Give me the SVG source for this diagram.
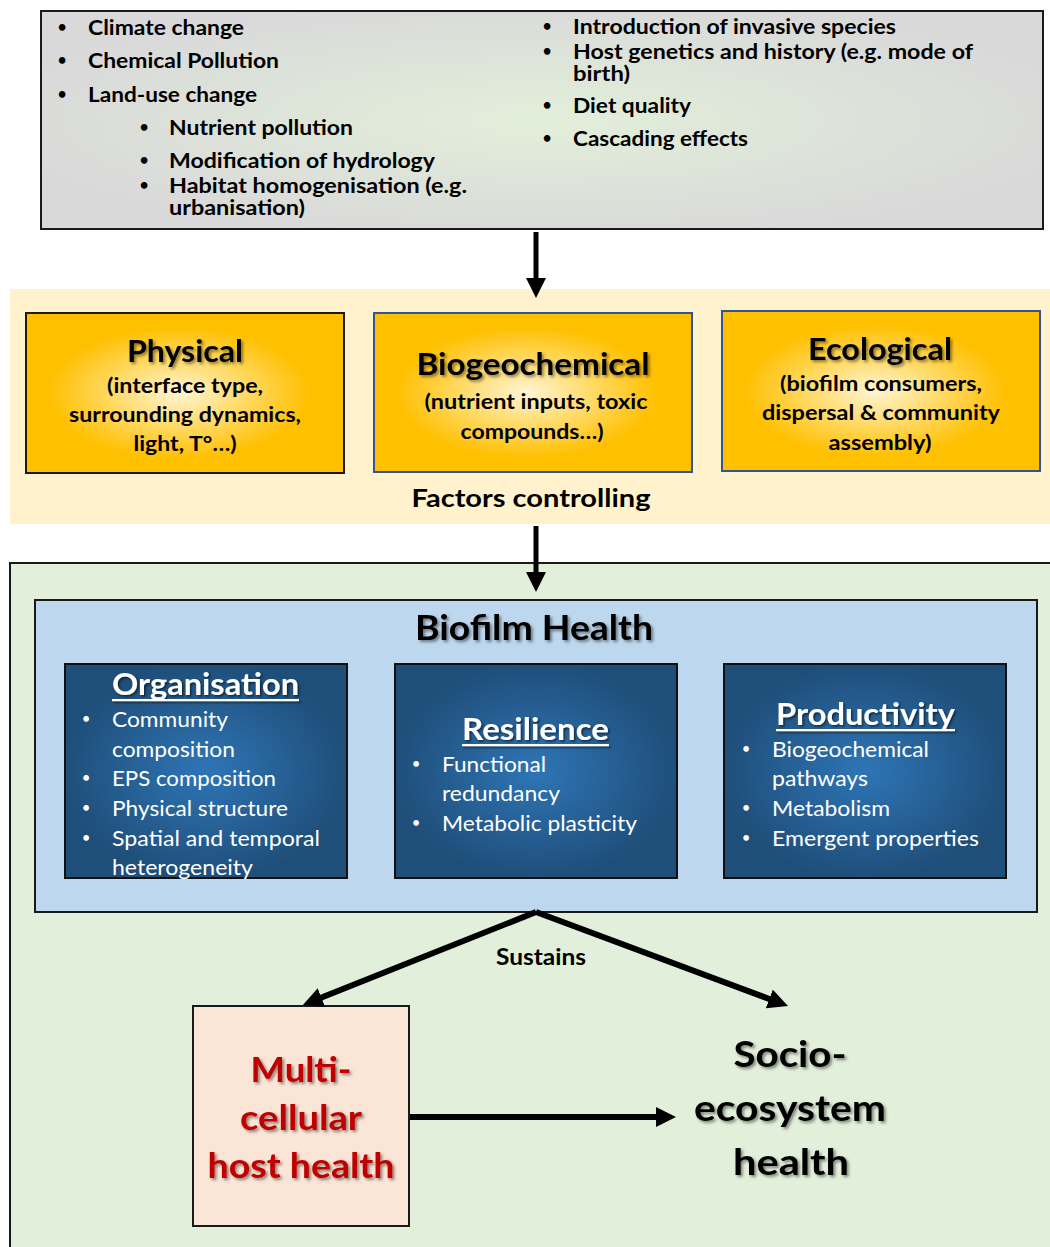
<svg xmlns="http://www.w3.org/2000/svg" width="1050" height="1247" viewBox="0 0 1050 1247">
<defs>
<style>
text{font-family:Lato,"Open Sans","Liberation Sans",sans-serif;}
.b{font-weight:700;fill:#000;}
.top{font-size:21px;font-weight:700;fill:#000;}
.ft{font-size:31px;font-weight:700;fill:#000;}
.fs{font-size:20.5px;font-weight:700;fill:#000;}
.wh{font-size:30px;font-weight:700;fill:#fff;}
.wb{font-size:21.5px;font-weight:400;fill:#fff;}
.bu{font-size:15px;}
.conn{stroke:#000;fill:none;}
</style>
<radialGradient id="gTop" cx="0.5" cy="0.5" r="0.55">
<stop offset="0" stop-color="#e2efd9"/>
<stop offset="1" stop-color="#d9d9d9"/>
</radialGradient>
<radialGradient id="gGold" cx="0.48" cy="0.5" r="0.55">
<stop offset="0" stop-color="#fff5d6"/>
<stop offset="0.35" stop-color="#ffdc6e"/>
<stop offset="0.75" stop-color="#ffc000"/>
<stop offset="1" stop-color="#ffc000"/>
</radialGradient>
<radialGradient id="gBlue" cx="0.5" cy="0.5" r="0.6">
<stop offset="0" stop-color="#2e75b6"/>
<stop offset="0.85" stop-color="#1f4e79"/>
<stop offset="1" stop-color="#1f4e79"/>
</radialGradient>
<filter id="sh" x="-10%" y="-20%" width="125%" height="150%">
<feDropShadow dx="2" dy="2" stdDeviation="1.5" flood-color="#000" flood-opacity="0.45"/>
</filter>
<filter id="shw" x="-10%" y="-20%" width="125%" height="150%">
<feDropShadow dx="1.5" dy="1.5" stdDeviation="1" flood-color="#000" flood-opacity="0.6"/>
</filter>
<marker id="ah" markerUnits="userSpaceOnUse" markerWidth="20" markerHeight="20" refX="8" refY="10" orient="auto">
<path d="M0,0 L20,10 L0,20 z" fill="#000"/>
</marker>
</defs>

<!-- backgrounds -->
<rect x="10" y="289" width="1040" height="235" fill="#fff2cc"/>
<rect x="10" y="563" width="1050" height="700" fill="#e2efda" stroke="#1a1a1a" stroke-width="2"/>

<g id="drivers">
<rect x="41" y="11" width="1002" height="218" fill="url(#gTop)" stroke="#1a1a1a" stroke-width="2"/>
<g class="top">
<text class="bu" x="62" y="32" text-anchor="middle">•</text>
<text x="88" y="35" textLength="156" lengthAdjust="spacingAndGlyphs">Climate change</text>
<text class="bu" x="62" y="65" text-anchor="middle">•</text>
<text x="88" y="68" textLength="191" lengthAdjust="spacingAndGlyphs">Chemical Pollution</text>
<text class="bu" x="62" y="99" text-anchor="middle">•</text>
<text x="88" y="102" textLength="169" lengthAdjust="spacingAndGlyphs">Land-use change</text>
<text class="bu" x="144" y="132" text-anchor="middle">•</text>
<text x="169" y="135" textLength="184" lengthAdjust="spacingAndGlyphs">Nutrient pollution</text>
<text class="bu" x="144" y="165" text-anchor="middle">•</text>
<text x="169" y="168" textLength="266" lengthAdjust="spacingAndGlyphs">Modification of hydrology</text>
<text class="bu" x="144" y="190" text-anchor="middle">•</text>
<text x="169" y="193" textLength="298" lengthAdjust="spacingAndGlyphs">Habitat homogenisation (e.g.</text>
<text x="169" y="215" textLength="136" lengthAdjust="spacingAndGlyphs">urbanisation)</text>
<text class="bu" x="547" y="31" text-anchor="middle">•</text>
<text x="573" y="34" textLength="323" lengthAdjust="spacingAndGlyphs">Introduction of invasive species</text>
<text class="bu" x="547" y="56" text-anchor="middle">•</text>
<text x="573" y="59" textLength="400" lengthAdjust="spacingAndGlyphs">Host genetics and history (e.g. mode of</text>
<text x="573" y="81" textLength="57" lengthAdjust="spacingAndGlyphs">birth)</text>
<text class="bu" x="547" y="110" text-anchor="middle">•</text>
<text x="573" y="113" textLength="118" lengthAdjust="spacingAndGlyphs">Diet quality</text>
<text class="bu" x="547" y="143" text-anchor="middle">•</text>
<text x="573" y="146" textLength="175" lengthAdjust="spacingAndGlyphs">Cascading effects</text>
</g>
</g>

<g id="physical">
<rect x="26" y="313" width="318" height="160" fill="url(#gGold)" stroke="#1a1a1a" stroke-width="2"/>
<text class="ft" x="185" y="362" text-anchor="middle" textLength="116" lengthAdjust="spacingAndGlyphs" filter="url(#sh)">Physical</text>
<text class="fs" x="185" y="393" text-anchor="middle" textLength="156" lengthAdjust="spacingAndGlyphs">(interface type,</text>
<text class="fs" x="185" y="422" text-anchor="middle" textLength="232" lengthAdjust="spacingAndGlyphs">surrounding dynamics,</text>
<text class="fs" x="185" y="451" text-anchor="middle" textLength="103" lengthAdjust="spacingAndGlyphs">light, T°…)</text>
</g>

<g id="biogeochemical">
<rect x="374" y="313" width="318" height="159" fill="url(#gGold)" stroke="#2f5597" stroke-width="2"/>
<text class="ft" x="533" y="375" text-anchor="middle" textLength="233" lengthAdjust="spacingAndGlyphs" filter="url(#sh)">Biogeochemical</text>
<text class="fs" x="536" y="409" text-anchor="middle" textLength="223" lengthAdjust="spacingAndGlyphs">(nutrient inputs, toxic</text>
<text class="fs" x="532" y="439" text-anchor="middle" textLength="143" lengthAdjust="spacingAndGlyphs">compounds…)</text>
</g>

<g id="ecological">
<rect x="722" y="311" width="318" height="160" fill="url(#gGold)" stroke="#2f5597" stroke-width="2"/>
<text class="ft" x="880" y="360" text-anchor="middle" textLength="144" lengthAdjust="spacingAndGlyphs" filter="url(#sh)">Ecological</text>
<text class="fs" x="881" y="391" text-anchor="middle" textLength="202" lengthAdjust="spacingAndGlyphs">(biofilm consumers,</text>
<text class="fs" x="881" y="420" text-anchor="middle" textLength="238" lengthAdjust="spacingAndGlyphs">dispersal &amp; community</text>
<text class="fs" x="880" y="450" text-anchor="middle" textLength="103" lengthAdjust="spacingAndGlyphs">assembly)</text>
</g>

<g id="factors-label">
<text class="b" x="531" y="507" text-anchor="middle" font-size="24" textLength="239" lengthAdjust="spacingAndGlyphs">Factors controlling</text>
</g>

<g id="biofilm-health">
<rect x="35" y="600" width="1002" height="312" fill="#bdd7ee" stroke="#1a1a1a" stroke-width="2"/>
<text class="b" x="534" y="640" text-anchor="middle" font-size="35" textLength="238" lengthAdjust="spacingAndGlyphs" filter="url(#sh)">Biofilm Health</text>
</g>

<g id="organisation">
<rect x="65" y="664" width="282" height="214" fill="url(#gBlue)" stroke="#111" stroke-width="2"/>
<g filter="url(#shw)">
<text class="wh" x="112" y="695" textLength="187" lengthAdjust="spacingAndGlyphs">Organisation</text>
<rect x="112" y="699" width="187" height="2.2" fill="#fff"/>
</g>
<g class="wb">
<text class="bu" x="86" y="724" text-anchor="middle">•</text>
<text x="112" y="727" textLength="116" lengthAdjust="spacingAndGlyphs">Community</text>
<text x="112" y="757" textLength="123" lengthAdjust="spacingAndGlyphs">composition</text>
<text class="bu" x="86" y="783" text-anchor="middle">•</text>
<text x="112" y="786" textLength="164" lengthAdjust="spacingAndGlyphs">EPS composition</text>
<text class="bu" x="86" y="813" text-anchor="middle">•</text>
<text x="112" y="816" textLength="176" lengthAdjust="spacingAndGlyphs">Physical structure</text>
<text class="bu" x="86" y="843" text-anchor="middle">•</text>
<text x="112" y="846" textLength="208" lengthAdjust="spacingAndGlyphs">Spatial and temporal</text>
<text x="112" y="875" textLength="141" lengthAdjust="spacingAndGlyphs">heterogeneity</text>
</g>
</g>

<g id="resilience">
<rect x="395" y="664" width="282" height="214" fill="url(#gBlue)" stroke="#111" stroke-width="2"/>
<g filter="url(#shw)">
<text class="wh" x="462" y="740" textLength="147" lengthAdjust="spacingAndGlyphs">Resilience</text>
<rect x="462" y="744" width="147" height="2.2" fill="#fff"/>
</g>
<g class="wb">
<text class="bu" x="416" y="769" text-anchor="middle">•</text>
<text x="442" y="772" textLength="104" lengthAdjust="spacingAndGlyphs">Functional</text>
<text x="442" y="801" textLength="118" lengthAdjust="spacingAndGlyphs">redundancy</text>
<text class="bu" x="416" y="828" text-anchor="middle">•</text>
<text x="442" y="831" textLength="195" lengthAdjust="spacingAndGlyphs">Metabolic plasticity</text>
</g>
</g>

<g id="productivity">
<rect x="724" y="664" width="282" height="214" fill="url(#gBlue)" stroke="#111" stroke-width="2"/>
<g filter="url(#shw)">
<text class="wh" x="776" y="725" textLength="179" lengthAdjust="spacingAndGlyphs">Productivity</text>
<rect x="776" y="729" width="179" height="2.2" fill="#fff"/>
</g>
<g class="wb">
<text class="bu" x="746" y="754" text-anchor="middle">•</text>
<text x="772" y="757" textLength="157" lengthAdjust="spacingAndGlyphs">Biogeochemical</text>
<text x="772" y="786" textLength="96" lengthAdjust="spacingAndGlyphs">pathways</text>
<text class="bu" x="746" y="813" text-anchor="middle">•</text>
<text x="772" y="816" textLength="118" lengthAdjust="spacingAndGlyphs">Metabolism</text>
<text class="bu" x="746" y="843" text-anchor="middle">•</text>
<text x="772" y="846" textLength="207" lengthAdjust="spacingAndGlyphs">Emergent properties</text>
</g>
</g>

<g id="host-health">
<rect x="193" y="1006" width="216" height="220" fill="#fbe5d6" stroke="#1a1a1a" stroke-width="2"/>
<g class="b" font-size="35" style="fill:#c00000" filter="url(#sh)">
<text x="301" y="1082" text-anchor="middle" textLength="101" lengthAdjust="spacingAndGlyphs">Multi-</text>
<text x="301" y="1130" text-anchor="middle" textLength="122" lengthAdjust="spacingAndGlyphs">cellular</text>
<text x="301" y="1178" text-anchor="middle" textLength="187" lengthAdjust="spacingAndGlyphs">host health</text>
</g>
</g>

<g id="socio-ecosystem-health">
<g class="b" font-size="37" filter="url(#sh)">
<text x="790" y="1067" text-anchor="middle" textLength="113" lengthAdjust="spacingAndGlyphs">Socio-</text>
<text x="790" y="1121" text-anchor="middle" textLength="192" lengthAdjust="spacingAndGlyphs">ecosystem</text>
<text x="791" y="1175" text-anchor="middle" textLength="116" lengthAdjust="spacingAndGlyphs">health</text>
</g>
</g>

<g id="connectors">
<line class="conn" x1="536" y1="232" x2="536" y2="286" stroke-width="5" marker-end="url(#ah)"/>
<line class="conn" x1="536" y1="526" x2="536" y2="580" stroke-width="5" marker-end="url(#ah)"/>
<line class="conn" x1="536" y1="912" x2="314" y2="1000.5" stroke-width="6" marker-end="url(#ah)"/>
<line class="conn" x1="536" y1="912" x2="776.8" y2="1001.8" stroke-width="6" marker-end="url(#ah)"/>
<line class="conn" x1="410" y1="1117" x2="664" y2="1117" stroke-width="6" marker-end="url(#ah)"/>
<text class="b" x="541" y="965" text-anchor="middle" font-size="22" textLength="90" lengthAdjust="spacingAndGlyphs">Sustains</text>
</g>
</svg>
